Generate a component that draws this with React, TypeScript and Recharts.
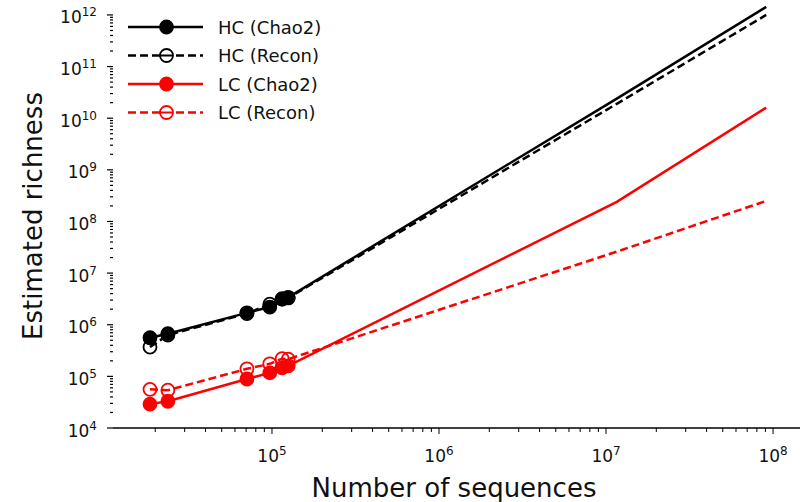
import { LineChart, Line, XAxis, YAxis, Legend, Label } from "recharts";

// measured sample sizes and the two projected depths
const sampleSizes = [18600, 23800, 70800, 97000, 115000, 125000];
const projectedSizes = [11600000, 91000000];

const hcChao2 = [5.6e5, 6.7e5, 1.7e6, 2.2e6, 3.2e6, 3.4e6];
const hcChao2Proj = [2.4e10, 1.43e12];
const hcRecon = [3.7e5, 6.3e5, 1.65e6, 2.5e6, 3.1e6, 3.3e6];
const hcReconProj = [1.9e10, 1.0e12];
const lcChao2 = [2.9e4, 3.3e4, 8.9e4, 1.17e5, 1.46e5, 1.6e5];
const lcChao2Proj = [2.4e8, 1.6e10];
const lcRecon = [5.6e4, 5.4e4, 1.4e5, 1.75e5, 2.2e5, 2.15e5];
const lcReconProj = [2.6e7, 2.5e8];

const xMajor = [1e5, 1e6, 1e7, 1e8];
const xExponents = ["5", "6", "7", "8"];
const yMajor = [1e4, 1e5, 1e6, 1e7, 1e8, 1e9, 1e10, 1e11, 1e12];
const yExponents = ["4", "5", "6", "7", "8", "9", "10", "11", "12"];
const mantissas = [2, 3, 4, 5, 6, 7, 8, 9];

const xDomain = [1.117e4, 1.45e8];
const yDomain = [1e4, 1.78e12];

const FONT = "'DejaVu Sans', sans-serif";

const minorTicks = (majors: number[], lo: number, hi: number) => {
  const out: number[] = [];
  [majors[0] / 10, ...majors].forEach((d) =>
    mantissas.forEach((m) => {
      const v = m * d;
      if (v > lo && v < hi) out.push(v);
    })
  );
  return out;
};

const xTicks = [...xMajor, ...minorTicks(xMajor, xDomain[0], xDomain[1])].sort((a, b) => a - b);
const yTicks = [...yMajor, ...minorTicks(yMajor, yDomain[0], yDomain[1])].sort((a, b) => a - b);

const series = [
  { name: "HC (Chao2)", color: "#000000", dashed: false, filled: true, values: hcChao2, proj: hcChao2Proj },
  { name: "HC (Recon)", color: "#000000", dashed: true, filled: false, values: hcRecon, proj: hcReconProj },
  { name: "LC (Chao2)", color: "#ff0000", dashed: false, filled: true, values: lcChao2, proj: lcChao2Proj },
  { name: "LC (Recon)", color: "#ff0000", dashed: true, filled: false, values: lcRecon, proj: lcReconProj },
];

const toRows = (values: number[], proj: number[]) => [
  ...sampleSizes.map((x, i) => ({ x, y: values[i] })),
  ...projectedSizes.map((x, i) => ({ x, y: proj[i] })),
];

function XTick(props: any) {
  const { x, y, payload } = props;
  const idx = xMajor.indexOf(payload.value);
  const major = idx >= 0;
  return (
    <g>
      <line x1={x} x2={x} y1={y} y2={y + (major ? 6 : 4)} stroke="#000" strokeWidth={1} />
      {major && (
        <text x={x} y={y + 34} textAnchor="middle" fontFamily={FONT} fontSize={17} fill="#111">
          <tspan>10</tspan>
          <tspan dy={-7} fontSize={12}>
            {xExponents[idx]}
          </tspan>
        </text>
      )}
    </g>
  );
}

function YTick(props: any) {
  const { x, y, payload } = props;
  const idx = yMajor.indexOf(payload.value);
  const major = idx >= 0;
  return (
    <g>
      <line x1={x - (major ? 6 : 3)} x2={x} y1={y} y2={y} stroke="#000" strokeWidth={1.2} />
      {major && (
        <text x={x - 16} y={y + 8.5} textAnchor="end" fontFamily={FONT} fontSize={17} fill="#111">
          <tspan>10</tspan>
          <tspan dy={-7} fontSize={12}>
            {yExponents[idx]}
          </tspan>
        </text>
      )}
    </g>
  );
}

function LegendBox() {
  return (
    <svg width={260} height={125}>
      {series.map((s, i) => {
        const cy = 17 + i * 28.5;
        return (
          <g key={s.name}>
            <line
              x1={8}
              x2={83}
              y1={cy}
              y2={cy}
              stroke={s.color}
              strokeWidth={2.5}
              strokeDasharray={s.dashed ? "8 4" : undefined}
            />
            <circle cx={46.5} cy={cy} r={6.5} fill={s.filled ? s.color : "#fff"} stroke={s.color} strokeWidth={1.8} />
            {!s.filled && <line x1={40} x2={53} y1={cy} y2={cy} stroke={s.color} strokeWidth={2} />}
            <text x={98} y={cy} dominantBaseline="central" fontFamily={FONT} fontSize={18} fill="#111">
              {s.name}
            </text>
          </g>
        );
      })}
    </svg>
  );
}

export default function App() {
  return (
    <div style={{ position: "absolute", left: 0, top: 0, width: 800, height: 502, background: "#fff" }}>
      <LineChart width={800} height={502} margin={{ top: 2, right: 0, bottom: 0, left: 0 }}>
        <XAxis
          dataKey="x"
          type="number"
          scale="log"
          domain={xDomain}
          allowDataOverflow
          ticks={xTicks}
          interval={0}
          tickSize={0}
          tickMargin={0}
          tickLine={false}
          tick={<XTick />}
          axisLine={{ stroke: "#000", strokeWidth: 1.3 }}
          height={74}
        >
          <Label
            content={() => (
              <text x={454} y={497} textAnchor="middle" fontFamily={FONT} fontSize={26} fill="#111">
                Number of sequences
              </text>
            )}
          />
        </XAxis>
        <YAxis
          type="number"
          scale="log"
          domain={yDomain}
          allowDataOverflow
          ticks={yTicks}
          interval={0}
          tickSize={0}
          tickMargin={0}
          tickLine={false}
          tick={<YTick />}
          axisLine={false}
          width={113}
        >
          <Label
            content={() => (
              <text
                x={42}
                y={216}
                transform="rotate(-90, 42, 216)"
                textAnchor="middle"
                fontFamily={FONT}
                fontSize={26}
                fill="#111"
              >
                Estimated richness
              </text>
            )}
          />
        </YAxis>
        <Legend
          layout="vertical"
          align="center"
          verticalAlign="middle"
          content={<LegendBox />}
          wrapperStyle={{ left: 120, top: 10, width: 260, height: 125 }}
        />
        {series.map((s) => (
          <Line
            key={s.name}
            name={s.name}
            data={toRows(s.values, s.proj)}
            dataKey="y"
            type="linear"
            stroke={s.color}
            strokeWidth={2.5}
            strokeDasharray={s.dashed ? "8 4" : undefined}
            isAnimationActive={false}
            activeDot={false}
            dot={(p: any) =>
              p.index < sampleSizes.length ? (
                <circle
                  key={`${s.name}-${p.index}`}
                  cx={p.cx}
                  cy={p.cy}
                  r={6.5}
                  fill={s.filled ? s.color : "none"}
                  stroke={s.color}
                  strokeWidth={1.8}
                />
              ) : (
                <g key={`${s.name}-${p.index}`} />
              )
            }
          />
        ))}
      </LineChart>
    </div>
  );
}
